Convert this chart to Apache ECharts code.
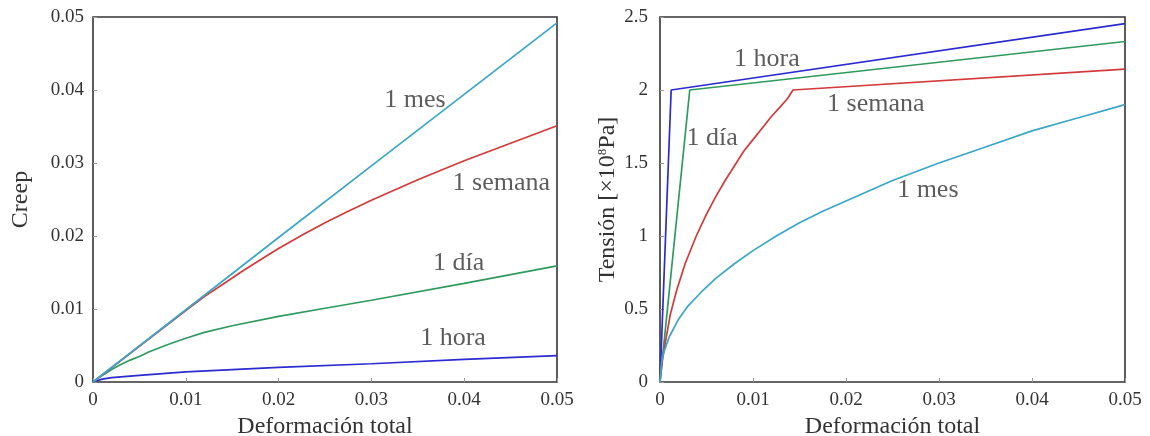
<!DOCTYPE html>
<html>
<head>
<meta charset="utf-8">
<script src="https://cdn.jsdelivr.net/npm/echarts@6/dist/echarts.min.js"></script>
<style>
  html, body { margin: 0; padding: 0; background: #fff; }
  #main { width: 1150px; height: 436px; }
</style>
</head>
<body>
<div id="main"></div>
<script>
// tick labels
var xTicks = [0, 0.01, 0.02, 0.03, 0.04, 0.05];
var creepTicks = [0, 0.01, 0.02, 0.03, 0.04, 0.05];
var stressTicks = [0, 0.5, 1, 1.5, 2, 2.5];

var seriesNames = ['1 hora', '1 día', '1 semana', '1 mes'];

// left plot: creep vs total strain  [strain, creep]
var creepHora = [[0, 0], [0.001, 0.0004], [0.002, 0.0006], [0.005, 0.0009], [0.01, 0.0014],
  [0.02, 0.0020], [0.03, 0.0025], [0.04, 0.0031], [0.05, 0.0036]];
var creepDia = [[0, 0], [0.001, 0.0009], [0.002, 0.0017], [0.003, 0.0024], [0.004, 0.0030],
  [0.005, 0.0035], [0.006, 0.0041], [0.008, 0.0051], [0.01, 0.0060], [0.012, 0.0068],
  [0.015, 0.0077], [0.02, 0.0090], [0.025, 0.0101], [0.03, 0.0112], [0.04, 0.0135],
  [0.05, 0.0159]];
var creepSemana = [[0, 0], [0.005, 0.0049], [0.01, 0.0098], [0.012, 0.0117], [0.014, 0.0134],
  [0.016, 0.0151], [0.018, 0.0167], [0.02, 0.0183], [0.0225, 0.0201], [0.025, 0.0218],
  [0.0275, 0.0234], [0.03, 0.0249], [0.035, 0.0277], [0.04, 0.0303], [0.045, 0.0327],
  [0.05, 0.0351]];
var creepMes = [[0, 0], [0.01, 0.0099], [0.02, 0.0198], [0.03, 0.0296], [0.04, 0.0394], [0.05, 0.0492]];

// right plot: stress (x1e8 Pa) vs total strain  [strain, stress]
var stressHora = [[0, 0], [0.0012, 2.0], [0.05, 2.455]];
var stressDia = [[0, 0], [0.0032, 2.0], [0.05, 2.332]];
var stressSemana = [[0, 0], [0.0003, 0.17], [0.0006, 0.28], [0.0011, 0.46], [0.0018, 0.63],
  [0.0027, 0.81], [0.0039, 1.0], [0.0050, 1.15], [0.0060, 1.27], [0.0070, 1.38],
  [0.0080, 1.48], [0.0090, 1.58], [0.0100, 1.66], [0.0110, 1.74], [0.0120, 1.82],
  [0.0130, 1.89], [0.0137, 1.94], [0.0143, 2.0], [0.05, 2.143]];
var stressMes = [[0, 0], [0.0002, 0.15], [0.0005, 0.22], [0.001, 0.31], [0.002, 0.43],
  [0.003, 0.52], [0.0045, 0.62], [0.006, 0.71], [0.008, 0.81], [0.01, 0.90],
  [0.0125, 1.00], [0.015, 1.09], [0.0175, 1.17], [0.02, 1.24], [0.025, 1.38],
  [0.03, 1.50], [0.035, 1.61], [0.04, 1.72], [0.045, 1.81], [0.05, 1.90]];

// where the curve names sit (data coords)
var leftNotes = [['1 mes', 0.0347, 0.0386], ['1 semana', 0.0440, 0.0273],
  ['1 día', 0.0394, 0.0163], ['1 hora', 0.0388, 0.0060]];
var rightNotes = [['1 hora', 0.0115, 2.213], ['1 semana', 0.0232, 1.906],
  ['1 día', 0.0056, 1.673], ['1 mes', 0.0288, 1.311]];

var colors = ['#2b2bcf', '#2f9a5e', '#d33a3a', '#3aa6c8'];
var font = 'Liberation Serif';
var ink = '#333';

var chart = echarts.init(document.getElementById('main'));

function xAxis(gi) {
  return {
    type: 'value', gridIndex: gi, min: 0, max: 0.05, interval: 0.01,
    name: 'Deformación total', nameLocation: 'middle', nameGap: 28,
    nameTextStyle: { fontFamily: font, fontSize: 24, color: ink },
    axisLine: { show: false },
    axisTick: { inside: true, length: 4, lineStyle: { color: '#999' } },
    splitLine: { show: false },
    axisLabel: {
      fontFamily: font, fontSize: 19, color: ink, margin: 9,
      formatter: function (v) { return xTicks.indexOf(+v.toFixed(2)) >= 0 ? String(+v.toFixed(2)) : ''; }
    }
  };
}

function yAxis(gi, max, step, ticks, name, gap, lblMargin) {
  return {
    type: 'value', gridIndex: gi, min: 0, max: max, interval: step,
    name: name, nameLocation: 'middle', nameGap: gap,
    nameTextStyle: {
      fontFamily: font, fontSize: 24, color: ink,
      rich: { sup: { fontFamily: font, fontSize: 13, color: ink, padding: [0, 0, 10, 0] } }
    },
    axisLine: { show: false },
    axisTick: { inside: true, length: 4, lineStyle: { color: '#999' } },
    splitLine: { show: false },
    axisLabel: {
      fontFamily: font, fontSize: 19, color: ink, margin: lblMargin,
      formatter: function (v) { return String(+v.toFixed(2)); }
    }
  };
}

function line(name, data, c, gi) {
  return {
    name: name, type: 'line', xAxisIndex: gi, yAxisIndex: gi, data: data,
    showSymbol: false, smooth: false, lineStyle: { color: c, width: 1.7 },
    itemStyle: { color: c }, silent: true, z: 3
  };
}

function notes(list, gi) {
  return {
    type: 'scatter', xAxisIndex: gi, yAxisIndex: gi, symbolSize: 0, silent: true,
    data: list.map(function (n) { return { value: [n[1], n[2]], name: n[0] }; }),
    label: {
      show: true, position: 'inside', formatter: '{b}',
      fontFamily: font, fontSize: 26, color: ink
    },
    z: 5
  };
}

chart.setOption({
  backgroundColor: '#fff',
  animation: false,
  grid: [
    { left: 93, top: 17, width: 464, height: 365, outerBoundsMode: 'none', containLabel: false,
      show: true, borderColor: ink, borderWidth: 1.6, backgroundColor: 'transparent' },
    { left: 660, top: 17, width: 465, height: 365, outerBoundsMode: 'none', containLabel: false,
      show: true, borderColor: ink, borderWidth: 1.6, backgroundColor: 'transparent' }
  ],
  xAxis: [xAxis(0), xAxis(1)],
  yAxis: [
    yAxis(0, 0.05, 0.01, creepTicks, 'Creep', 60, 9),
    yAxis(1, 2.5, 0.5, stressTicks, 'Tensión [×10{sup|8}Pa]', 40, 12)
  ],
  series: [
    line(seriesNames[0], creepHora, colors[0], 0),
    line(seriesNames[1], creepDia, colors[1], 0),
    line(seriesNames[2], creepSemana, colors[2], 0),
    line(seriesNames[3], creepMes, colors[3], 0),
    line(seriesNames[0], stressHora, colors[0], 1),
    line(seriesNames[1], stressDia, colors[1], 1),
    line(seriesNames[2], stressSemana, colors[2], 1),
    line(seriesNames[3], stressMes, colors[3], 1),
    notes(leftNotes, 0),
    notes(rightNotes, 1)
  ]
});
</script>
</body>
</html>
